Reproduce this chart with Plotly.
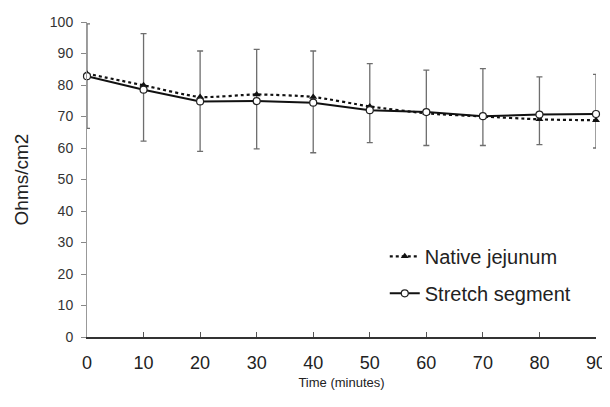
import plotly.graph_objects as go

time_min = [0, 10, 20, 30, 40, 50, 60, 70, 80, 90]
native_jejunum = [83.6, 79.9, 76.2, 77.0, 76.2, 73.2, 71.0, 70.0, 69.1, 68.8]
stretch_segment = [82.8, 78.5, 74.8, 74.9, 74.4, 72.0, 71.4, 70.1, 70.6, 70.8]
err_upper = [99.4, 96.3, 90.8, 91.3, 90.8, 86.8, 84.7, 85.2, 82.6, 83.4]
err_lower = [66.2, 62.2, 58.9, 59.7, 58.5, 61.7, 60.8, 60.8, 61.1, 60.0]
x_ticks = [0, 10, 20, 30, 40, 50, 60, 70, 80, 90]
y_ticks = [0, 10, 20, 30, 40, 50, 60, 70, 80, 90, 100]

plus = [u - v for u, v in zip(err_upper, stretch_segment)]
minus = [v - l for v, l in zip(stretch_segment, err_lower)]

fig = go.Figure()

fig.add_trace(go.Scatter(
    x=time_min, y=stretch_segment, mode="lines", showlegend=False,
    line=dict(color="rgba(0,0,0,0)", width=0),
    error_y=dict(type="data", symmetric=False, array=plus, arrayminus=minus,
                 color="#6e6e6e", thickness=1.3, width=3),
    hoverinfo="skip", cliponaxis=False,
))

fig.add_trace(go.Scatter(
    x=time_min, y=native_jejunum, mode="lines+markers", name="Native jejunum",
    legendgroup="a",
    line=dict(color="#111111", width=2.2, dash="dot", shape="spline", smoothing=0.6),
    marker=dict(symbol="triangle-up", size=7, color="#111111"),
    cliponaxis=False,
))

fig.add_trace(go.Scatter(
    x=time_min, y=stretch_segment, mode="lines+markers", name="Stretch segment",
    legendgroup="b",
    line=dict(color="#111111", width=2),
    marker=dict(symbol="circle", size=7, color="white", line=dict(color="#222222", width=1.2)),
    cliponaxis=False,
))

# page body has an 8px default margin, so the figure is sized to fill the rest
fig.update_layout(
    width=602, height=399,
    margin=dict(l=79, r=14, t=14, b=70, autoexpand=False),
    paper_bgcolor="white", plot_bgcolor="white",
    font=dict(family="Liberation Sans, Arial, sans-serif", color="#222222"),
    legend=dict(x=0.585, y=0.318, xanchor="left", yanchor="top",
                font=dict(size=20, color="#222222"), traceorder="grouped",
                bgcolor="rgba(0,0,0,0)", tracegroupgap=8, itemwidth=30),
)

fig.update_xaxes(
    range=[0, 90], tickmode="array", tickvals=x_ticks, automargin=False,
    showgrid=False, zeroline=False,
    showline=True, linecolor="#333333", linewidth=2,
    ticks="inside", ticklen=5, tickcolor="#555555",
    tickfont=dict(size=18, color="#222222"), ticklabelstandoff=8,
    title=dict(text="Time (minutes)", font=dict(size=13, color="#222222"), standoff=6),
)

fig.update_yaxes(
    range=[0, 100], tickmode="array", tickvals=y_ticks, automargin=False,
    showgrid=False, zeroline=False,
    showline=True, linecolor="#999999", linewidth=1,
    ticks="outside", ticklen=5, tickcolor="#888888",
    tickfont=dict(size=14, color="#333333"), ticklabelstandoff=5,
    title=dict(text="Ohms/cm2", font=dict(size=19, color="#222222"), standoff=16),
)

fig.write_html("out.html")
